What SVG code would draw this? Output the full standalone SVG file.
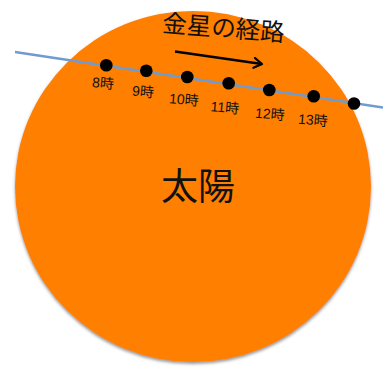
<svg xmlns="http://www.w3.org/2000/svg" width="383" height="367" viewBox="0 0 383 367">
<style>
.lbl{font-family:"Liberation Sans","Noto Sans CJK JP",sans-serif;font-size:14px;fill:#111;text-anchor:middle}
.jp{font-family:"Noto Sans CJK JP",sans-serif;fill:#111;text-anchor:middle}
.dot{fill:#000}
</style>
<defs>
<filter id="sh" x="-10%" y="-10%" width="120%" height="120%">
<feGaussianBlur in="SourceAlpha" stdDeviation="1.5"/>
<feOffset dx="0" dy="1.5" result="b"/>
<feFlood flood-color="#555" flood-opacity="0.6"/>
<feComposite in2="b" operator="in"/>
<feMerge><feMergeNode/><feMergeNode in="SourceGraphic"/></feMerge>
</filter>
<marker id="ah" markerWidth="12" markerHeight="12" refX="9" refY="6" orient="auto" markerUnits="userSpaceOnUse">
<path d="M1,1 L9,6 L1,11" fill="none" stroke="#000" stroke-width="2.2" stroke-linecap="round" stroke-linejoin="round"/>
</marker>
</defs>
<rect width="383" height="367" fill="#fff"/>
<g id="sun">
<ellipse cx="193" cy="186.5" rx="178" ry="175.5" fill="#FF7F00" filter="url(#sh)"/>
<text class="jp" x="198" y="200" font-size="37">太陽</text>
</g>
<g id="connectors">
<line id="path" x1="15" y1="52" x2="383" y2="107.6" stroke="#6F9BD0" stroke-width="2.5"/>
<line id="arrow" x1="175" y1="51.5" x2="262" y2="64" stroke="#000" stroke-width="2.4" marker-end="url(#ah)"/>
</g>
<g id="title">
<text class="jp" x="223.5" y="36.5" font-size="24.5" transform="rotate(4.5 223 29)">金星の経路</text>
</g>
<g id="venus">
<circle class="dot" cx="106.3" cy="65.3" r="6.3"/>
<circle class="dot" cx="146.3" cy="70.7" r="6.3"/>
<circle class="dot" cx="187.3" cy="77" r="6.3"/>
<circle class="dot" cx="228.7" cy="83.3" r="6.3"/>
<circle class="dot" cx="269.3" cy="90" r="6.3"/>
<circle class="dot" cx="313.7" cy="96.3" r="6.3"/>
<circle class="dot" cx="354" cy="103.5" r="6.3"/>
</g>
<g id="labels">
<text class="lbl" x="103" y="88" transform="rotate(5 103 83)">8時</text>
<text class="lbl" x="143" y="96.5" transform="rotate(5 143 91)">9時</text>
<text class="lbl" x="184" y="104.5" transform="rotate(5 184 99)">10時</text>
<text class="lbl" x="225" y="112.5" transform="rotate(5 225 107)">11時</text>
<text class="lbl" x="270" y="119" transform="rotate(5 270 113)">12時</text>
<text class="lbl" x="313" y="125" transform="rotate(5 313 119)">13時</text>
</g>
</svg>
